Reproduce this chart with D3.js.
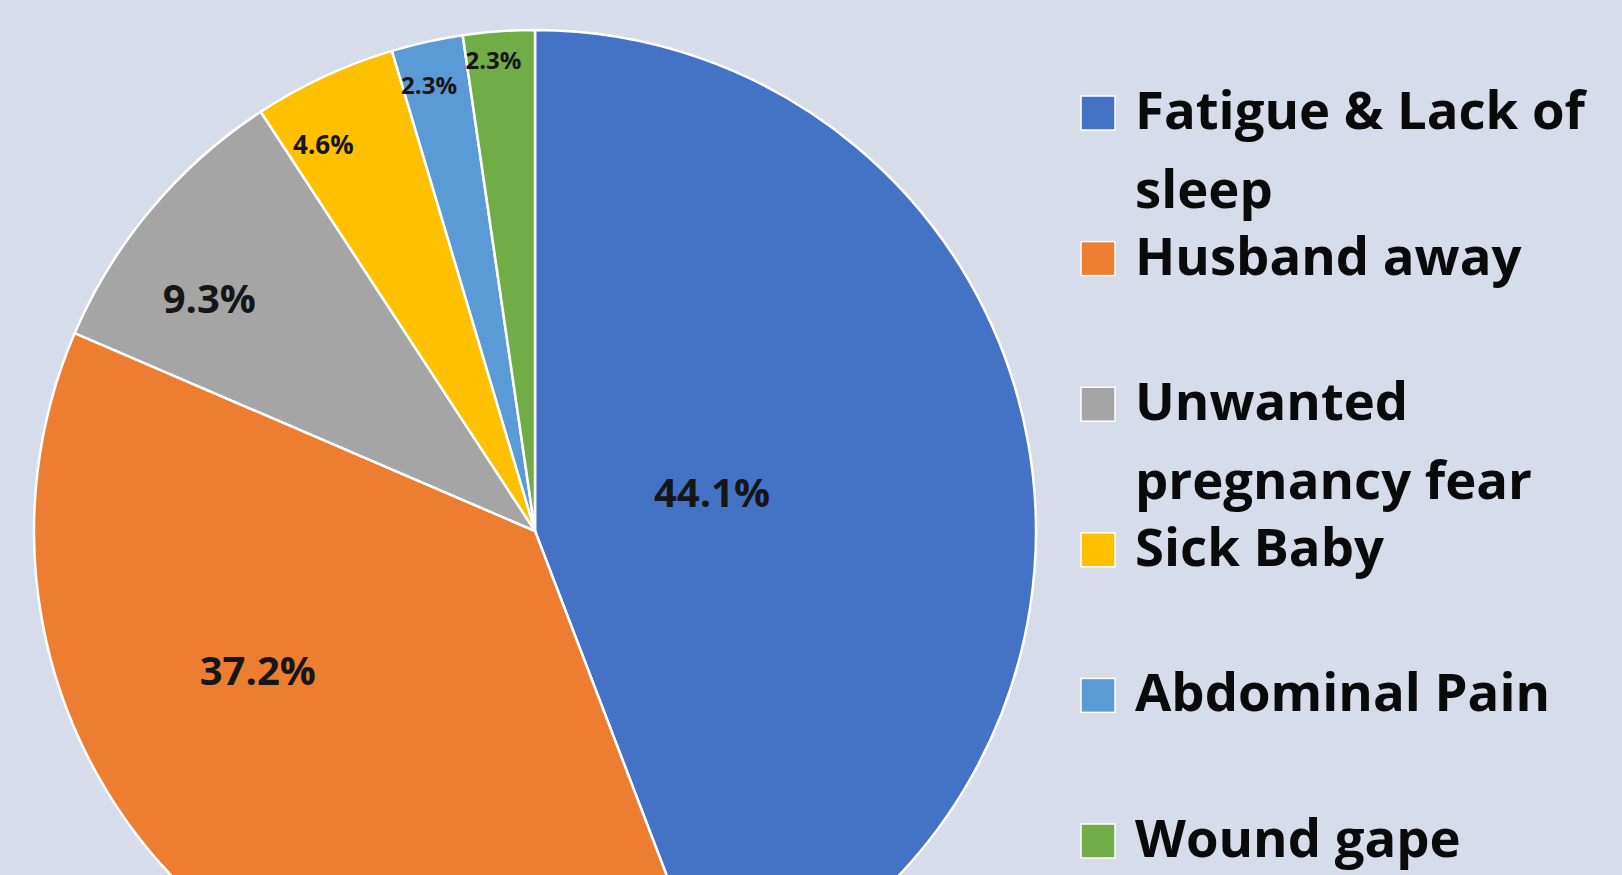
<!DOCTYPE html>
<html>
<head>
<meta charset="utf-8">
<script src="https://cdn.jsdelivr.net/npm/d3@7"></script>
<style>
  html, body { margin: 0; padding: 0; background: #D6DCEA; overflow: hidden; }
  svg { display: block; }
</style>
</head>
<body>
<svg id="chart" width="1622" height="875"></svg>
<script>
// ---- data ----
const categories = ["Fatigue & Lack of sleep", "Husband away", "Unwanted pregnancy fear", "Sick Baby", "Abdominal Pain", "Wound gape"];
const values = [44.1, 37.2, 9.3, 4.6, 2.3, 2.3];
const labels = ["44.1%", "37.2%", "9.3%", "4.6%", "2.3%", "2.3%"];
const colors = ["#4472C4", "#ED7D31", "#A5A5A5", "#FFC000", "#5B9BD5", "#70AD47"];

// ---- label placement (styling, not data) ----
const labelRadiusFrac = [0.362, 0.619, 0.80, 0.88, 0.916, 0.944];
const labelAngleShiftDeg = [-2.2, 17.2, -4.4, -3.8, -0.9, -0.9];
const labelFontSize = [40, 40, 40, 26, 24, 24];

const W = 1622, H = 875;
const cx = 535, cy = 531, R = 501;
const svg = d3.select("#chart");
const FONT = "'Open Sans', 'Noto Sans', sans-serif";

svg.append("rect").attr("width", W).attr("height", H).attr("fill", "#D6DCEA");

const pie = d3.pie().sort(null).value(d => d)(values);
const arc = d3.arc().innerRadius(0).outerRadius(R);

const g = svg.append("g").attr("transform", `translate(${cx},${cy})`);
g.selectAll("path.slice").data(pie).enter().append("path")
  .attr("class", "slice")
  .attr("d", arc)
  .attr("fill", (d, i) => colors[i])
  .attr("stroke", "#ffffff")
  .attr("stroke-width", 2.5)
  .attr("stroke-linejoin", "round");

g.selectAll("text.lbl").data(pie).enter().append("text")
  .attr("class", "lbl")
  .attr("transform", (d, i) => {
    const a = (d.startAngle + d.endAngle) / 2 + labelAngleShiftDeg[i] * Math.PI / 180;
    const p = d3.pointRadial(a, R * labelRadiusFrac[i]);
    return `translate(${p[0]},${p[1]})`;
  })
  .attr("text-anchor", "middle")
  .attr("dominant-baseline", "central")
  .attr("font-family", FONT)
  .attr("font-weight", 700)
  .attr("font-size", (d, i) => labelFontSize[i])
  .attr("fill", "#161616")
  .text((d, i) => labels[i]);

// ---- legend ----
const legendX = 1081, textX = 1135, firstBaseline = 129, entryStep = 145.6, lineH = 79, sq = 34;
const maxTextW = 480;

// size legend font so that first line width matches the reference
const probe = svg.append("text").attr("font-family", FONT).attr("font-weight", 700)
  .attr("font-size", 100).text("Fatigue & Lack of");
const legendFont = 100 * 450 / probe.node().getComputedTextLength();
probe.attr("font-size", legendFont);

function wrap(str) {
  const words = str.split(" ");
  const lines = [];
  let cur = "";
  words.forEach(w => {
    const test = cur ? cur + " " + w : w;
    probe.text(test);
    if (probe.node().getComputedTextLength() > maxTextW && cur) { lines.push(cur); cur = w; }
    else cur = test;
  });
  if (cur) lines.push(cur);
  return lines;
}

const leg = svg.append("g");
categories.forEach((c, i) => {
  const base = firstBaseline + i * entryStep;
  leg.append("rect")
    .attr("x", legendX).attr("y", base - 33)
    .attr("width", sq).attr("height", sq)
    .attr("fill", colors[i])
    .attr("stroke", "#ffffff").attr("stroke-width", 1.5);
  const t = leg.append("text")
    .attr("x", textX).attr("y", base)
    .attr("font-family", FONT).attr("font-weight", 700)
    .attr("font-size", legendFont)
    .attr("fill", "#0a0a0a");
  wrap(c).forEach((ln, j) => {
    t.append("tspan").attr("x", textX).attr("y", base + j * lineH).text(ln);
  });
});
probe.remove();
</script>
</body>
</html>
